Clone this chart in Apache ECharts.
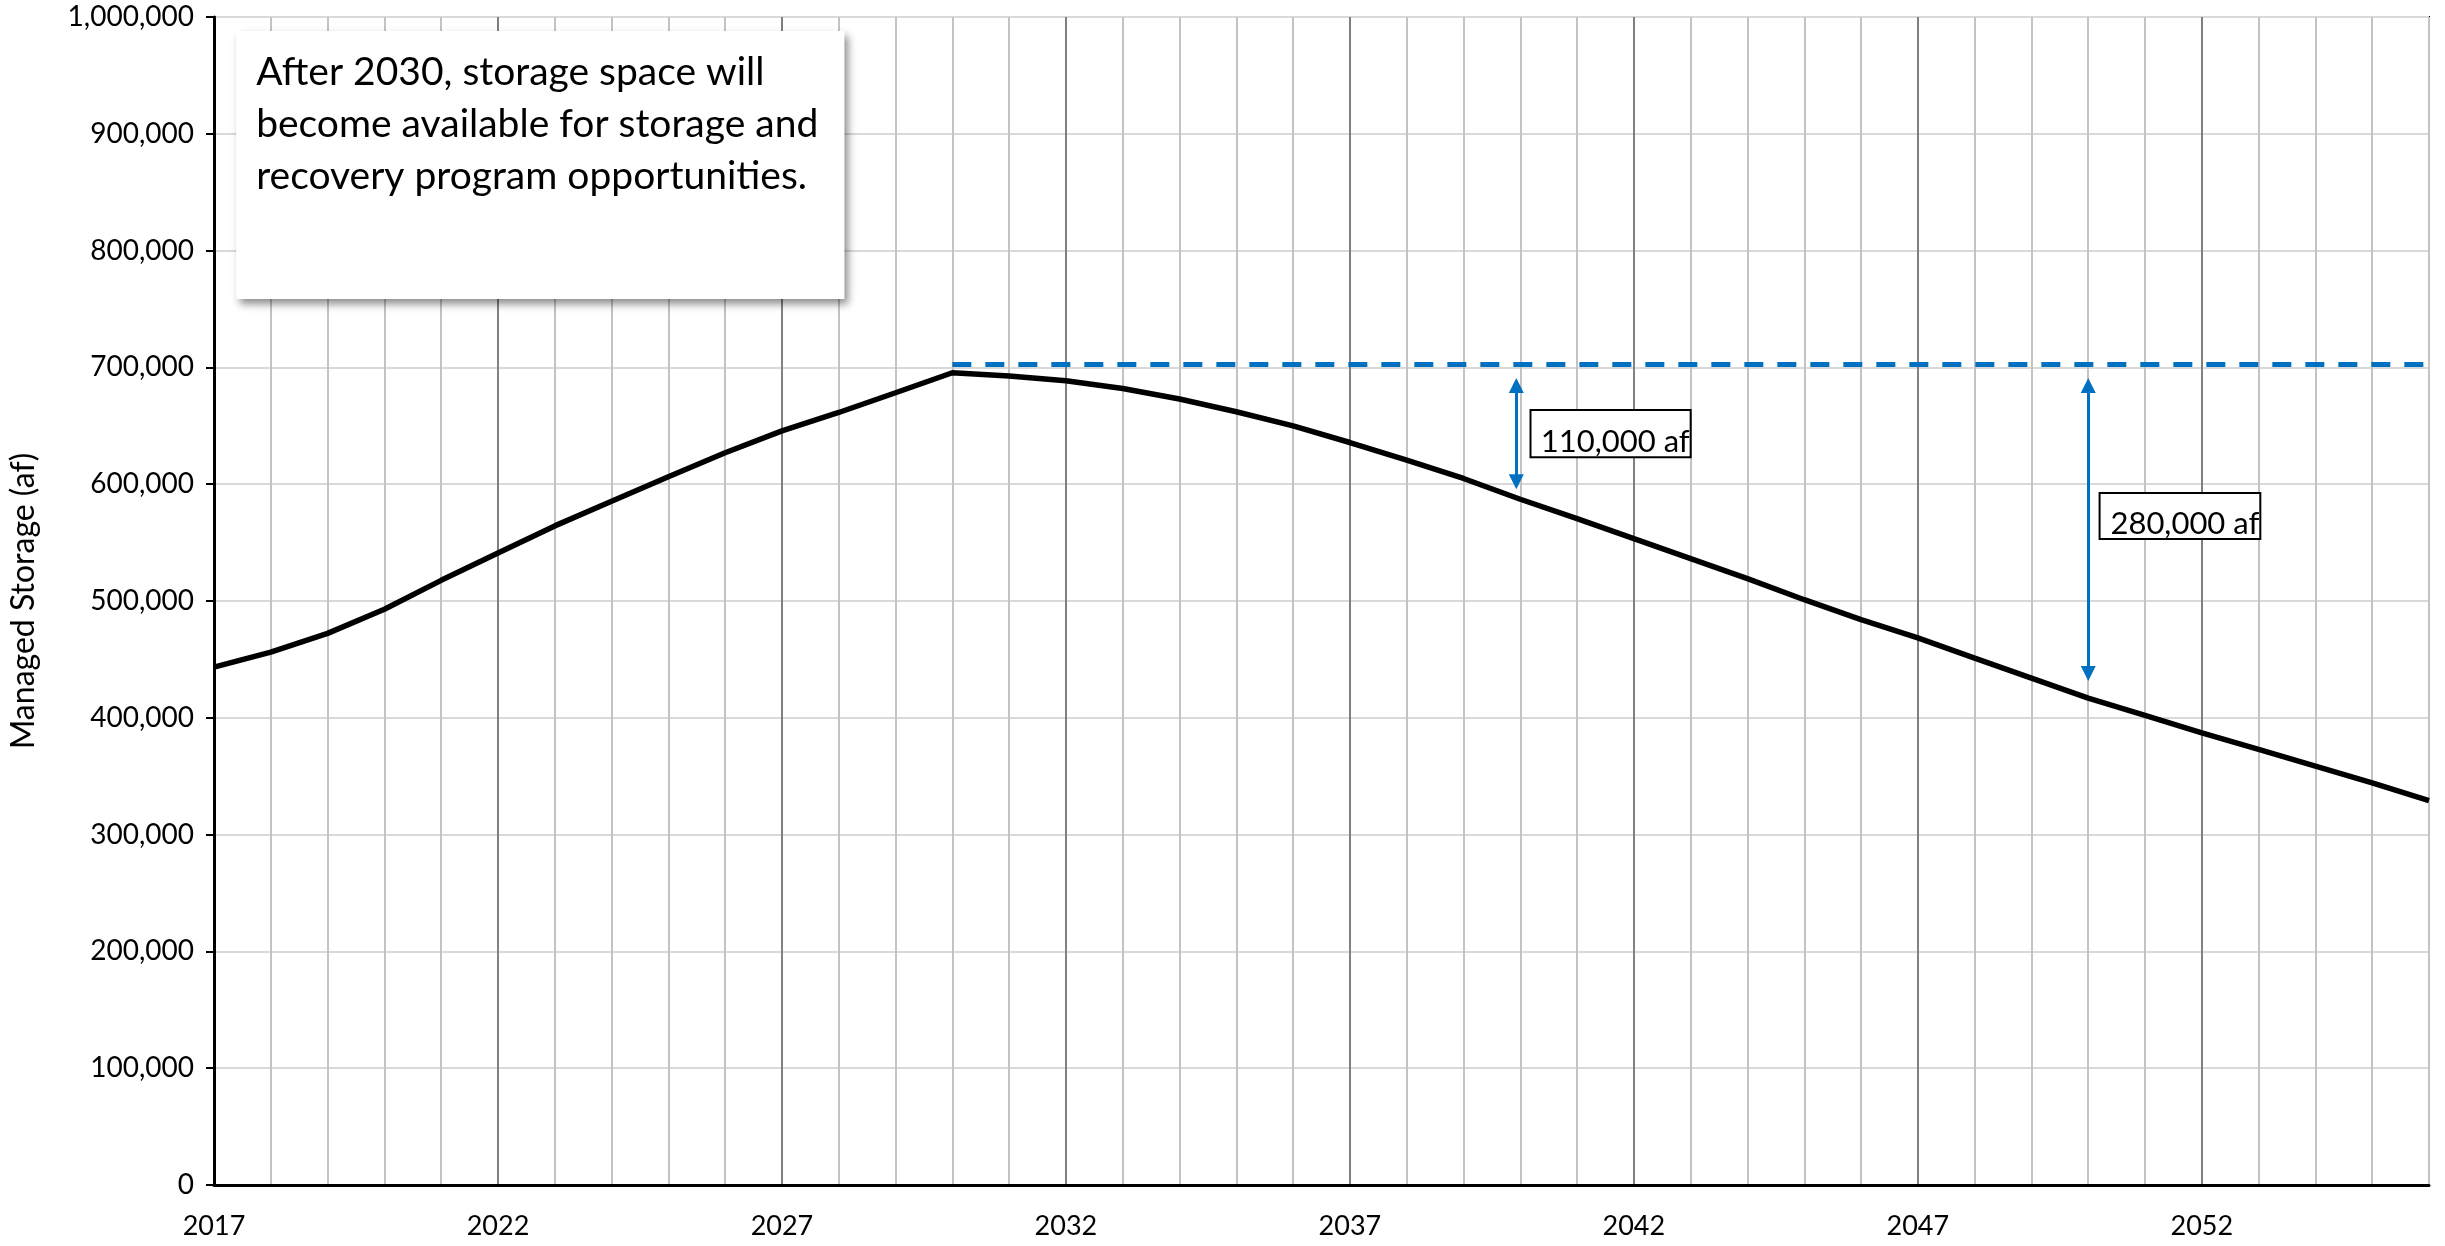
<!DOCTYPE html>
<html>
<head>
<meta charset="utf-8">
<title>Managed Storage</title>
<script src="https://cdn.jsdelivr.net/npm/echarts@6/dist/echarts.min.js"></script>
<style>
  html, body { margin: 0; padding: 0; background: #fff; }
  #chart { width: 2445px; height: 1246px; }
</style>
</head>
<body>
<div id="chart"></div>
<script>
const years = [2017, 2018, 2019, 2020, 2021, 2022, 2023, 2024, 2025, 2026,
  2027, 2028, 2029, 2030, 2031, 2032, 2033, 2034, 2035, 2036,
  2037, 2038, 2039, 2040, 2041, 2042, 2043, 2044, 2045, 2046,
  2047, 2048, 2049, 2050, 2051, 2052, 2053, 2054, 2055, 2056]
const storage = [443400, 456300, 472300, 492900, 517700, 541100, 564300, 585400, 606300, 626900,
  645600, 661400, 678300, 695400, 692600, 688600, 682000, 672900, 662000, 650000,
  635700, 620600, 604900, 587100, 570600, 553400, 536300, 519100, 501100, 484000,
  468400, 451100, 434000, 416900, 402000, 387100, 372900, 358600, 344300, 329100]

// capacity line after 2030
const capacityYears = [2030, 2056]
const capacityValue = 702500

// double arrows: [year, top, bottom] and their labels
const gapArrows = [
  [2039.93, 684500, 602000],
  [2050.0, 684500, 438000]
]
const gapLabels = ['110,000 af', '280,000 af']
const gapBoxes = [
  [2040.18, 663500, 2043.0, 623000],
  [2050.2, 592500, 2053.03, 553000]
]

const noteText = [
  'After 2030, storage space will',
  'become available for storage and',
  'recovery program opportunities.'
]
const noteBox = [2017.39, 988000, 2028.1, 758600]

const yTicks = [0, 1000000, 100000] // min, max, step
const FONT = 'Lato'

const chart = echarts.init(document.getElementById('chart'))

const option = {
  animation: false,
  backgroundColor: '#fff',
  grid: {
    left: 212,
    right: 16,
    top: 17,
    bottom: 61,
    show: true,
    borderColor: '#000',
    borderWidth: 2
  },
  xAxis: {
    type: 'value',
    min: years[0],
    max: years[years.length - 1],
    interval: 1,
    axisLine: { lineStyle: { color: '#000', width: 3 } },
    axisTick: { show: false },
    axisLabel: {
      margin: 28,
      fontSize: 27,
      fontFamily: FONT,
      color: '#000',
      formatter: v => ((v - years[0]) % 5 === 0 ? String(v) : '')
    },
    splitLine: {
      show: true,
      lineStyle: {
        color: ['#808080', '#c3c3c3', '#c3c3c3', '#c3c3c3', '#c3c3c3'],
        width: 2
      }
    }
  },
  yAxis: {
    type: 'value',
    min: yTicks[0],
    max: yTicks[1],
    interval: yTicks[2],
    name: 'Managed Storage (af)',
    nameLocation: 'middle',
    nameGap: 174,
    nameTextStyle: { fontSize: 32, fontFamily: FONT, color: '#000' },
    axisLine: { show: true, lineStyle: { color: '#000', width: 3 } },
    axisTick: { show: true, length: 8, lineStyle: { color: '#000', width: 2 } },
    axisLabel: {
      margin: 20,
      fontSize: 28,
      fontFamily: FONT,
      color: '#000',
      formatter: v => v.toLocaleString('en-US')
    },
    splitLine: { lineStyle: { color: '#d9d9d9', width: 2 } }
  },
  series: [
    {
      name: 'Managed Storage',
      type: 'line',
      showSymbol: false,
      symbol: 'none',
      z: 5,
      lineStyle: { color: '#000', width: 5.5 },
      data: years.map((y, i) => [y, storage[i]])
    },
    {
      name: 'Capacity',
      type: 'line',
      symbol: 'none',
      z: 4,
      lineStyle: { color: '#0070C0', width: 5, type: [19, 14] },
      data: capacityYears.map(y => [y, capacityValue])
    },
    {
      name: 'Gaps',
      type: 'line',
      data: [],
      markLine: {
        silent: true,
        symbol: ['triangle', 'triangle'],
        symbolSize: [15, 15],
        label: { show: false },
        lineStyle: { color: '#0070C0', width: 3, type: 'solid' },
        data: gapArrows.map(a => [{ coord: [a[0], a[1]] }, { coord: [a[0], a[2]] }])
      }
    }
  ]
}

chart.setOption(option)

const px = (x, y) => chart.convertToPixel({ gridIndex: 0 }, [x, y])

const graphics = []
const n0 = px(noteBox[0], noteBox[1])
const n1 = px(noteBox[2], noteBox[3])
graphics.push({
  type: 'rect',
  z: 100,
  shape: { x: n0[0], y: n0[1], width: n1[0] - n0[0], height: n1[1] - n0[1] },
  style: {
    fill: '#fff',
    shadowBlur: 8,
    shadowOffsetX: 4,
    shadowOffsetY: 5,
    shadowColor: 'rgba(0,0,0,0.45)'
  }
})
graphics.push({
  type: 'text',
  z: 101,
  x: n0[0] + 20,
  y: n0[1] + 15,
  style: {
    text: noteText.join('\n'),
    font: '39px ' + FONT,
    lineHeight: 52,
    fill: '#000',
    textVerticalAlign: 'top'
  }
})

gapBoxes.forEach((b, i) => {
  const p0 = px(b[0], b[1])
  const p1 = px(b[2], b[3])
  graphics.push({
    type: 'rect',
    z: 100,
    shape: { x: p0[0], y: p0[1], width: p1[0] - p0[0], height: p1[1] - p0[1] },
    style: { fill: '#fff', stroke: '#000', lineWidth: 2 }
  })
  graphics.push({
    type: 'text',
    z: 101,
    x: p1[0] - 1,
    y: (p0[1] + p1[1]) / 2 + 8,
    style: {
      text: gapLabels[i],
      font: '31px ' + FONT,
      fill: '#000',
      textAlign: 'right',
      textVerticalAlign: 'middle'
    }
  })
})

chart.setOption({ graphic: graphics })
</script>
</body>
</html>
